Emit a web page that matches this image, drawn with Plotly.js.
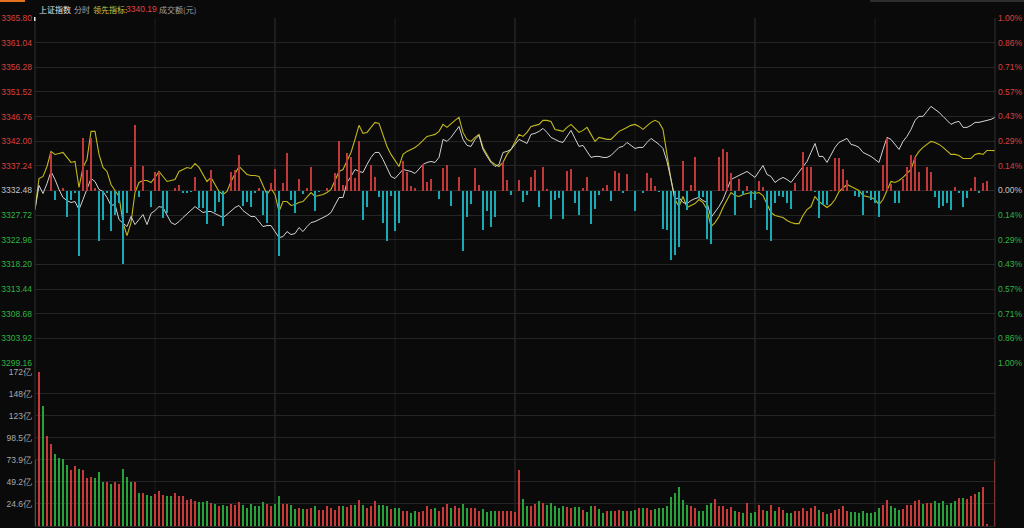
<!DOCTYPE html>
<html>
<head>
<meta charset="utf-8">
<script src="https://cdn.plot.ly/plotly-3.0.1.min.js"></script>
<style>
html,body{margin:0;padding:0;background:#0a0a0a;}
#chart{width:1024px;height:528px;}
</style>
</head>
<body>
<div id="chart"></div>
<script>
// ---- data (one value per trading minute, 09:30 .. 15:00) ----
const indexPrice = [
3328.80,3333.45,3331.90,3333.83,3336.16,3334.61,3332.67,3331.13,3330.54,3330.16,
3330.35,3328.80,3330.74,3332.67,3334.80,3334.22,3332.67,3332.29,3331.13,3329.58,
3329.77,3326.87,3326.09,3325.51,3327.45,3325.90,3326.87,3327.84,3325.90,3328.03,
3328.61,3329.38,3329.19,3327.64,3326.29,3325.90,3326.48,3327.26,3328.03,3328.80,
3329.38,3328.80,3328.22,3328.42,3328.42,3328.03,3327.64,3327.26,3327.84,3328.61,
3329.19,3329.58,3328.61,3328.03,3327.45,3327.45,3326.48,3325.51,3325.71,3325.71,
3324.55,3323.39,3323.58,3324.55,3323.97,3324.16,3325.32,3324.55,3325.51,3326.29,
3326.48,3326.87,3327.26,3327.64,3328.22,3329.77,3331.13,3331.13,3334.03,3335.19,
3336.54,3336.16,3335.96,3337.51,3338.87,3339.83,3339.83,3338.48,3336.93,3335.19,
3334.80,3335.58,3336.54,3336.35,3336.16,3335.77,3336.54,3337.51,3337.90,3338.09,
3337.90,3338.87,3342.35,3341.96,3342.74,3343.70,3344.86,3342.35,3341.19,3340.99,
3342.35,3343.12,3340.41,3339.06,3337.90,3337.12,3337.51,3339.83,3340.03,3340.41,
3341.38,3342.35,3341.96,3341.57,3343.32,3343.51,3343.90,3344.48,3343.70,3342.74,
3342.35,3341.96,3341.77,3342.93,3344.09,3342.54,3340.99,3341.19,3340.03,3338.87,
3339.06,3339.06,3338.87,3338.87,3339.25,3340.03,3340.80,3340.99,3341.77,3341.19,
3340.61,3340.80,3340.80,3341.77,3342.54,3341.96,3341.38,3340.61,3338.09,3334.61,
3330.74,3331.13,3330.16,3329.96,3330.54,3330.93,3331.13,3330.54,3330.16,3327.26,
3328.22,3329.38,3330.74,3332.67,3334.61,3335.00,3335.38,3335.77,3336.16,3335.58,
3335.00,3336.16,3337.32,3335.58,3335.19,3334.03,3334.61,3335.00,3334.61,3334.03,
3335.00,3335.96,3336.93,3338.09,3339.83,3341.57,3339.06,3339.06,3337.90,3339.45,
3340.80,3341.77,3342.16,3342.54,3341.38,3341.19,3340.80,3339.83,3339.45,3339.06,
3338.48,3337.90,3340.41,3342.74,3342.35,3341.38,3340.41,3341.96,3342.93,3344.28,
3346.03,3346.80,3346.80,3347.77,3348.73,3348.15,3347.57,3346.80,3346.03,3345.25,
3345.64,3345.83,3344.67,3344.67,3345.06,3345.64,3345.64,3345.83,3346.03,3346.22,
3346.61];

const leadIndicator = [
3328.80,3334.80,3335.19,3337.12,3340.03,3339.45,3339.64,3339.83,3338.87,3337.90,
3338.09,3333.06,3336.93,3338.48,3343.90,3343.90,3339.45,3336.93,3336.16,3333.64,
3332.48,3331.32,3326.29,3323.77,3326.29,3332.09,3334.03,3334.42,3334.42,3334.03,
3335.00,3336.16,3335.19,3334.22,3334.42,3334.61,3336.16,3336.54,3336.93,3336.74,
3337.70,3336.93,3335.58,3334.22,3335.00,3333.64,3332.29,3331.71,3332.29,3334.22,
3335.58,3337.12,3336.35,3335.58,3335.38,3335.38,3335.19,3333.45,3331.71,3332.87,
3331.71,3328.42,3330.35,3330.35,3329.58,3329.77,3330.16,3330.35,3331.13,3332.09,
3331.32,3331.51,3331.71,3332.09,3332.67,3334.42,3336.16,3336.54,3338.09,3339.83,
3342.35,3345.06,3343.51,3343.70,3344.67,3345.64,3345.44,3343.32,3340.99,3339.45,
3338.29,3337.12,3339.45,3340.03,3340.41,3340.80,3341.38,3342.16,3342.93,3343.12,
3343.32,3343.90,3345.25,3344.67,3345.44,3346.03,3346.61,3343.70,3342.35,3341.96,
3342.74,3343.32,3340.80,3339.45,3338.09,3337.51,3337.12,3337.90,3339.45,3340.41,
3341.96,3343.32,3342.93,3343.70,3344.86,3345.06,3345.25,3346.03,3346.03,3345.83,
3344.28,3344.09,3343.90,3344.67,3345.25,3344.48,3343.70,3344.09,3344.67,3343.32,
3341.96,3342.74,3342.54,3342.35,3342.35,3343.12,3343.90,3344.28,3344.67,3345.06,
3345.25,3344.86,3344.28,3345.06,3345.64,3346.03,3345.64,3344.28,3339.45,3334.61,
3330.74,3329.38,3331.32,3329.19,3329.58,3329.96,3330.74,3330.16,3328.80,3325.51,
3326.29,3327.45,3329.19,3330.74,3332.09,3331.51,3331.32,3331.71,3331.90,3332.09,
3331.90,3332.09,3331.51,3329.77,3328.22,3327.64,3327.45,3327.26,3326.68,3326.29,
3326.09,3326.09,3327.64,3328.80,3329.38,3331.32,3330.35,3329.77,3329.19,3329.77,
3330.74,3332.29,3333.06,3333.64,3333.25,3332.87,3332.48,3331.51,3331.32,3331.13,
3330.74,3329.77,3330.74,3332.67,3334.22,3334.03,3334.42,3335.00,3335.77,3336.54,
3338.87,3340.03,3340.80,3341.38,3341.96,3341.77,3341.38,3340.80,3340.03,3339.45,
3339.45,3339.25,3338.67,3338.67,3338.67,3339.45,3339.64,3339.45,3340.22,3340.22,
3340.19];

// buy/sell strength bars drawn around the previous close
const strength = [
0,0,0,0,38,-9,0,3,-26,-9,
-2,-65,53,21,53,3,-50,-29,-2,-40,
-24,-12,-73,-22,24,66,-6,25,0,-16,
19,19,-27,-22,0,3,6,-2,-2,-1,
14,-17,-17,-33,21,-21,-11,-35,0,19,
21,36,-15,-11,-16,-2,3,-24,-32,8,
22,-65,8,38,-9,-22,12,-3,3,24,
-20,-1,0,3,0,18,50,6,38,34,
13,50,-29,-16,26,14,-6,-32,-50,-5,
-40,-32,30,19,5,3,0,27,9,12,
0,-8,23,26,-15,0,14,-60,-26,-13,
23,6,-39,-20,-36,-26,0,29,11,-4,
0,11,-11,-4,14,21,-16,24,2,-28,
-9,-7,-28,20,22,-12,-24,3,14,-33,
-18,-4,3,6,-10,20,18,-2,17,0,
-20,0,-2,18,13,5,-1,-38,-39,-69,
-64,-56,30,-19,6,34,-7,-6,-48,-53,
0,34,42,39,18,-24,12,-4,5,-17,
-9,10,4,-39,-50,-12,-5,-6,-12,-18,
8,0,39,24,24,-1,-27,-14,-14,1,
33,33,22,11,0,-5,-6,-24,-2,-9,
-12,-26,26,53,7,-12,-12,12,24,36,
34,19,0,24,19,-6,-17,-15,-12,-19,
4,-2,-16,-7,3,14,-2,8,10,0,
0];

// turnover per minute, in 亿 yuan
const turnover = [
74,172,134,100.6,92,80.5,76,75,68,63,
67,64,62,54,55,54,60,49.7,49.7,47,
49,46.4,64,54.6,49.7,49.7,36.7,36.7,35,33.4,
36,39,35,33,34,36.7,33,34,28.5,30.4,
27.8,26.3,26.3,27.4,25.5,24.8,22.9,24,22.9,24.4,
24,26.3,23.7,19.9,24.8,22.6,22.2,26.3,24.8,22.2,
24.8,33.4,24.8,24.8,23.7,18.5,19.6,18.5,18.5,19.6,
22.2,18.1,18.1,22.2,19.6,18.1,22.9,22.2,21,23.7,
23.7,28.5,23.7,20.4,22.2,27.4,23.7,23.7,22.2,18.5,
19.6,19.6,16.5,16.5,14.3,17.3,16.2,17.3,22.2,18.8,
20.4,17.3,21,24.8,19.9,22.5,20.4,24.8,20.4,20.4,
19.6,17.3,18.5,16.2,16.5,16.5,17.3,16.5,17.3,16.5,
15.1,62.8,30.7,22.9,22.9,24.8,27.4,25.9,23.7,25.9,
22.9,20.4,22.6,21,19.6,20.7,20.7,18.1,16.2,22.6,
22.2,18.5,14.9,16.5,17.3,17.3,18.1,16.5,17.3,17.3,
18.1,19.6,19.6,20.4,18.1,19.2,19.6,20.4,22.2,32.6,
36.7,44.1,29.3,23.7,22.9,20.4,17.3,16.5,23.7,25.9,
30.4,22.6,22.9,18.5,20.7,16.5,16.2,14.9,25.9,14.9,
16.2,23.7,18.1,16.5,24,16.5,20.7,18.1,14.9,14.9,
17.3,16.5,19.6,17.3,19.6,22.6,18.1,16.2,13.6,14.9,
18.1,18.5,22.6,17.3,16.2,15.6,14.9,16.5,14.9,14.9,
16.2,20.4,23.7,28.5,22.2,20.4,18.1,18.5,24,24,
27.4,28.5,24.8,25.5,25.5,27.8,25.9,27.4,23.7,25.9,
27.4,30.9,30.9,29.8,33,35.2,38.5,44.1,2.4,0,
72.5];

// r = up minute (red bar), g = down minute (green bar)
const turnoverDir =
"grgrrggggr"+"rgrrrgggrg"+"rrgggrgrgg"+"rrrggrrrrr"+"rgggrgrggr"+
"rrggggggrr"+"ggrrggrgrr"+"grrrrrrgrr"+"grgrrrgggr"+"ggrrggrrrr"+
"grrrgrrggr"+"rrggggrrrr"+"rrggrrgrgg"+"gggrrggrgg"+"rggrgrrgrg"+
"grgrrggggg"+"ggggrrgggg"+"rrrrrgrgrg"+"grrgrgrrgg"+"rrrrrrgrgr"+
"rrrrgggggg"+"ggrrgggrrr"+"rrgrrggggg"+"grgrrrgrrr"+"r";

const prevClose = 3332.48;
const priceTicks = ["3299.16","3303.92","3308.68","3313.44","3318.20","3322.96","3327.72","3332.48",
                    "3337.24","3342.00","3346.76","3351.52","3356.28","3361.04","3365.80"];
const pctTickVals = [-1,-0.857,-0.714,-0.571,-0.429,-0.286,-0.143,0,0.143,0.286,0.429,0.571,0.714,0.857,1];
const pctTickText = ["1.00%","0.86%","0.71%","0.57%","0.43%","0.29%","0.14%","0.00%",
                     "0.14%","0.29%","0.43%","0.57%","0.71%","0.86%","1.00%"];
const volTickVals = [24.62,49.24,73.86,98.48,123.1,147.72,172.34];
const volTickText = ["24.6亿","49.2亿","73.9亿","98.5亿","123亿","148亿","172亿"];
const headerName = "上证指数", headerMode = "分时", headerLead = "领先指标:", headerLeadValue = "3340.19", headerVol = "成交额(元)";

// ---- drawing ----
const RED = "#d9403e", GREEN = "#2fb344", CYAN = "#1aaab6", GRAYTXT = "#c4c4c4";
const minutes = indexPrice.map((_, i) => i);
function colorFor(v){ return v > 0 ? RED : (v < 0 ? GREEN : GRAYTXT); }
function span(t, c){ return '<span style="color:' + c + '">' + t + '</span>'; }

const traces = [
  { type: "bar", x: minutes, y: strength, yaxis: "y3", width: 0.32,
    marker: { color: strength.map(v => v >= 0 ? "#c03838" : CYAN), line: { width: 0 } },
    hoverinfo: "skip" },
  { type: "scatter", mode: "lines", x: minutes, y: leadIndicator, yaxis: "y",
    line: { color: "#c2b81c", width: 1.1 }, hoverinfo: "skip" },
  { type: "scatter", mode: "lines", x: minutes, y: indexPrice, yaxis: "y",
    line: { color: "#d2d2d2", width: 1 }, hoverinfo: "skip" },
  { type: "bar", x: minutes, y: turnover, yaxis: "y2", width: 0.38,
    marker: { color: turnoverDir.split("").map(c => c === "r" ? "#c83a3a" : "#27a23a"), line: { width: 0 } },
    hoverinfo: "skip" }
];

const W = 960, TOP = 18, H = 508; // plot area: x 35..995, y 18..526
function px2paperX(px){ return (px - 35) / W; }
function px2paperY(py){ return (TOP + H - py) / H; }

const priceVals = priceTicks.map(Number);
const axisFont = { family: "Liberation Sans, Arial, sans-serif", size: 8.5 };

const shapes = [];
[30, 90, 150, 210].forEach(m => shapes.push({ type: "line", xref: "x", yref: "paper", x0: m, x1: m, y0: 0, y1: 1,
  line: { color: "#1c1c1c", width: 1 }, layer: "below" }));
[60, 120, 180].forEach(m => shapes.push({ type: "line", xref: "x", yref: "paper", x0: m, x1: m, y0: 0, y1: 1,
  line: { color: "#303030", width: 1 }, layer: "below" }));
shapes.push({ type: "line", xref: "paper", yref: "paper", x0: 1, x1: 1, y0: 0, y1: 1, line: { color: "#2e2e2e", width: 1 } });
shapes.push({ type: "line", xref: "paper", yref: "paper", x0: 0, x1: 0, y0: 0, y1: 1, line: { color: "#2e2e2e", width: 1 } });
shapes.push({ type: "rect", xref: "paper", yref: "paper", x0: px2paperX(0), x1: px2paperX(25), y0: px2paperY(2), y1: px2paperY(0),
  fillcolor: "#e2731e", line: { width: 0 } });
shapes.push({ type: "line", xref: "paper", yref: "paper", x0: px2paperX(870), x1: px2paperX(1024), y0: px2paperY(1), y1: px2paperY(1),
  line: { color: "#3a3a3a", width: 1.5 } });
shapes.push({ type: "rect", xref: "paper", yref: "paper", x0: px2paperX(34), x1: px2paperX(35.5), y0: px2paperY(21), y1: px2paperY(17),
  fillcolor: "#e8e8e8", line: { width: 0 } });

const hdrY = px2paperY(9);
const hdrFont = { family: "Noto Sans CJK SC, sans-serif", size: 8 };
const annotations = [
  { text: headerName, x: px2paperX(37), color: "#e6e6e6" },
  { text: headerMode, x: px2paperX(72), color: "#a8a8a8" },
  { text: headerLead, x: px2paperX(91), color: "#cfc444" },
  { text: headerLeadValue, x: px2paperX(123.5), color: "#e04545", family: "Liberation Sans, Arial, sans-serif", size: 8.5 },
  { text: headerVol, x: px2paperX(157), color: "#a0a0a0" }
].map(a => ({ xref: "paper", yref: "paper", x: a.x, y: hdrY, xanchor: "left", yanchor: "middle", showarrow: false,
  text: a.text, font: { family: a.family || hdrFont.family, size: a.size || hdrFont.size, color: a.color } }));

const layout = {
  width: 1024, height: 528,
  paper_bgcolor: "#0a0a0a", plot_bgcolor: "#0a0a0a",
  margin: { l: 35, r: 29, t: TOP, b: 2, pad: 0 },
  showlegend: false, bargap: 0,
  xaxis: { range: [0, 240], showgrid: false, zeroline: false, showticklabels: false, showline: false, fixedrange: true },
  yaxis: { domain: [px2paperY(363), 1], range: [priceVals[0], priceVals[priceVals.length - 1]],
    tickmode: "array", tickvals: priceVals,
    ticktext: priceTicks.map(t => span(t, colorFor(Number(t) - prevClose))),
    showgrid: true, gridcolor: "#252525", gridwidth: 1, zeroline: false, ticks: "", ticklabelstandoff: 2,
    tickfont: axisFont, showline: false, fixedrange: true },
  yaxis2: { domain: [0, px2paperY(371.7)], range: [0, 172.34], tickmode: "array", tickvals: volTickVals, ticktext: volTickText,
    showgrid: true, gridcolor: "#252525", zeroline: true, zerolinecolor: "#252525", ticks: "", ticklabelstandoff: 2,
    tickfont: Object.assign({ color: "#a9a9a9" }, axisFont), fixedrange: true },
  yaxis3: { overlaying: "y", range: [-172, 173], visible: false, fixedrange: true },
  yaxis4: { overlaying: "y", side: "right", range: [-1, 1], tickmode: "array", tickvals: pctTickVals,
    ticktext: pctTickText.map((t, i) => span(t, colorFor(pctTickVals[i]))),
    showgrid: false, zeroline: false, ticks: "", ticklabelstandoff: 2, tickfont: axisFont, fixedrange: true },
  shapes: shapes,
  annotations: annotations
};

// invisible trace so the right percent axis is drawn
traces.push({ type: "scatter", mode: "lines", x: [0, 240], y: [-2, -2], yaxis: "y4", line: { width: 0 }, hoverinfo: "skip", showlegend: false });

Plotly.newPlot("chart", traces, layout, { displayModeBar: false, staticPlot: true });
</script>
</body>
</html>
